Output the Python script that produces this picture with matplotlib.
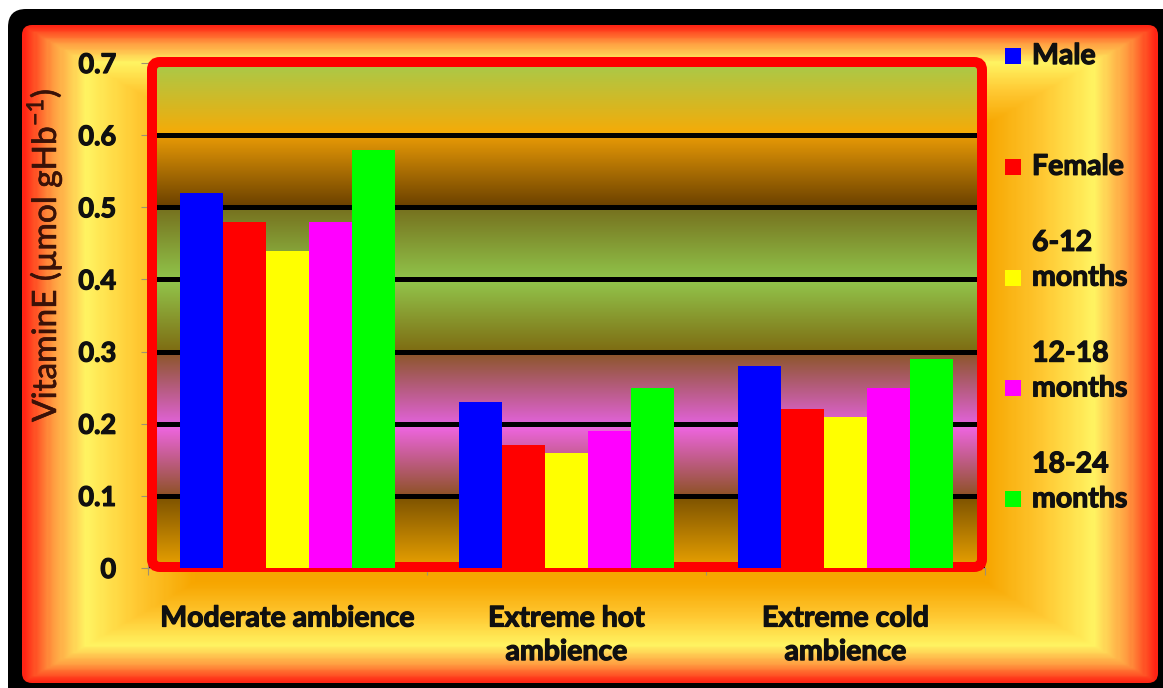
import numpy as np
import matplotlib
matplotlib.use("Agg")
import matplotlib.pyplot as plt
import matplotlib.patheffects as pe
from matplotlib.patches import FancyBboxPatch, Rectangle
from matplotlib.colors import LinearSegmentedColormap, to_rgb

# ---------------- data ----------------
categories = ["Moderate ambience", "Extreme hot\nambience", "Extreme cold\nambience"]
series_names = ["Male", "Female", "6-12\nmonths", "12-18\nmonths", "18-24\nmonths"]
male = [0.52, 0.23, 0.28]
female = [0.48, 0.17, 0.22]
months_6_12 = [0.44, 0.16, 0.21]
months_12_18 = [0.48, 0.19, 0.25]
months_18_24 = [0.58, 0.25, 0.29]
series_values = [male, female, months_6_12, months_12_18, months_18_24]
series_colors = ["#0000ff", "#ff0000", "#ffff00", "#ff00ff", "#00ff00"]
yticks = [0.0, 0.1, 0.2, 0.3, 0.4, 0.5, 0.6, 0.7]
ytick_labels = ["0", "0.1", "0.2", "0.3", "0.4", "0.5", "0.6", "0.7"]
ylabel = r"VitaminE (µmol gHb$^{\mathregular{-1}}$)"

plt.rcParams["font.family"] = ["Lato", "DejaVu Sans"]
plt.rcParams["mathtext.fontset"] = "custom"
plt.rcParams["mathtext.rm"] = "Lato"

W, H = 1163, 688
fig = plt.figure(figsize=(W / 100, H / 100), dpi=100)
fig.patch.set_facecolor("white")
heavy = [pe.withStroke(linewidth=0.9, foreground="#101010")]

# ---------------- outer background ----------------
bg = fig.add_axes([0, 0, 1, 1])
bg.set_xlim(0, W)
bg.set_ylim(H, 0)
bg.axis("off")

bg.add_patch(FancyBboxPatch((8, 9), 1185, 720, boxstyle="round,pad=0,rounding_size=18",
                            fc="black", ec="none", zorder=0))
x0, x1, y0, y1 = 22, 1158, 25, 683
nx, ny = 600, 400
xs = np.linspace(-1, 1, nx)
ys = np.linspace(-1, 1, ny)
XX, YY = np.meshgrid(xs, ys)
T = np.maximum(np.abs(XX), np.abs(YY))
outer_cmap = LinearSegmentedColormap.from_list(
    "outer",
    [(0.0, "#f5a000"), (0.70, "#f7a600"), (0.80, "#ffc832"), (0.89, "#fff462"),
     (0.95, "#ff9a40"), (1.0, "#ff2414")])
img = bg.imshow(outer_cmap(T), extent=(x0, x1, y1, y0), aspect="auto",
                interpolation="bilinear", zorder=1)
clip = FancyBboxPatch((x0, y0), x1 - x0, y1 - y0, boxstyle="round,pad=0,rounding_size=10",
                      fc="none", ec="none", transform=bg.transData)
bg.add_patch(clip)
img.set_clip_path(clip)
bg.set_xlim(0, W)
bg.set_ylim(H, 0)

# ---------------- plot area ----------------
ax = fig.add_axes([148 / W, 1 - 568 / H, 837 / W, 505 / H])

band_colors = [  # (bottom, top) for each 0.1 band from 0 upward
    ("#eaa200", "#7c5200"),
    ("#8e5226", "#f266e8"),
    ("#e062d6", "#8a5626"),
    ("#7e6c12", "#92c64c"),
    ("#90c44a", "#76701e"),
    ("#6a4000", "#e89a06"),
    ("#f7aa06", "#a8ca4a"),
]
rows = []
per = 60
for b, t in band_colors:
    cb, ct = np.array(to_rgb(b)), np.array(to_rgb(t))
    f = np.linspace(0, 1, per)[:, None]
    rows.append(cb * (1 - f) + ct * f)
grad = np.vstack(rows)[:, None, :]
ax.imshow(grad, extent=(-0.5, 2.5, 0, 0.7), aspect="auto", origin="lower",
          interpolation="bilinear", zorder=0)

ax.set_axisbelow(True)
ax.yaxis.grid(True, color="black", linewidth=3.6, zorder=0.5)
ax.xaxis.grid(False)

n = len(series_values)
width = 0.154
x = np.arange(len(categories))
for j, (vals, col) in enumerate(zip(series_values, series_colors)):
    ax.bar(x + (j - (n - 1) / 2) * width, vals, width, color=col, linewidth=0, zorder=2)

ax.set_xlim(-0.5, 2.5)
ax.set_ylim(0, 0.7)

frame = FancyBboxPatch((152, 62), 830, 505, boxstyle="round,pad=0,rounding_size=8",
                       fill=False, ec="#ff0000", lw=7.2, transform=bg.transData,
                       clip_on=False, zorder=1.5)
ax.add_patch(frame)

for s in ["top", "right"]:
    ax.spines[s].set_visible(False)
for s in ["left", "bottom"]:
    ax.spines[s].set_color("#a09070")
    ax.spines[s].set_linewidth(0.8)
    ax.spines[s].set_zorder(1)

ax.set_yticks(yticks)
ax.set_yticklabels(ytick_labels, fontsize=19.5, fontweight="bold", color="#101010")
ax.tick_params(axis="y", direction="out", length=5, width=0.8, color="#a09070", pad=18)
ax.set_xticks(x)
ax.set_xticklabels(categories, fontsize=20.5, fontweight="bold", color="#101010",
                   linespacing=1.36)
ax.tick_params(axis="x", which="major", length=0, pad=27)
ax.set_xticks([-0.5, 0.5, 1.5, 2.5], minor=True)
ax.tick_params(axis="x", which="minor", direction="out", length=5, width=0.8, color="#a09070")
for lab in ax.get_xticklabels() + ax.get_yticklabels():
    lab.set_path_effects(heavy)

fig.text(44 / W, 1 - 255 / H, ylabel, rotation=90, ha="center", va="center",
         fontsize=24, color="#3a1208",
         path_effects=[pe.withStroke(linewidth=0.5, foreground="#3a1208")])

# ---------------- legend ----------------
for i, (name, col) in enumerate(zip(series_names, series_colors)):
    yb = 64 + i * 110.8
    bg.add_patch(Rectangle((1005, yb - 16), 16, 16, fc=col, ec="none", zorder=3))
    bg.text(1032, yb, name, fontsize=20.5, fontweight="bold", color="#101010",
            ha="left", va="baseline", linespacing=1.42, zorder=3, path_effects=heavy)

fig.savefig("out.png", dpi=100)
